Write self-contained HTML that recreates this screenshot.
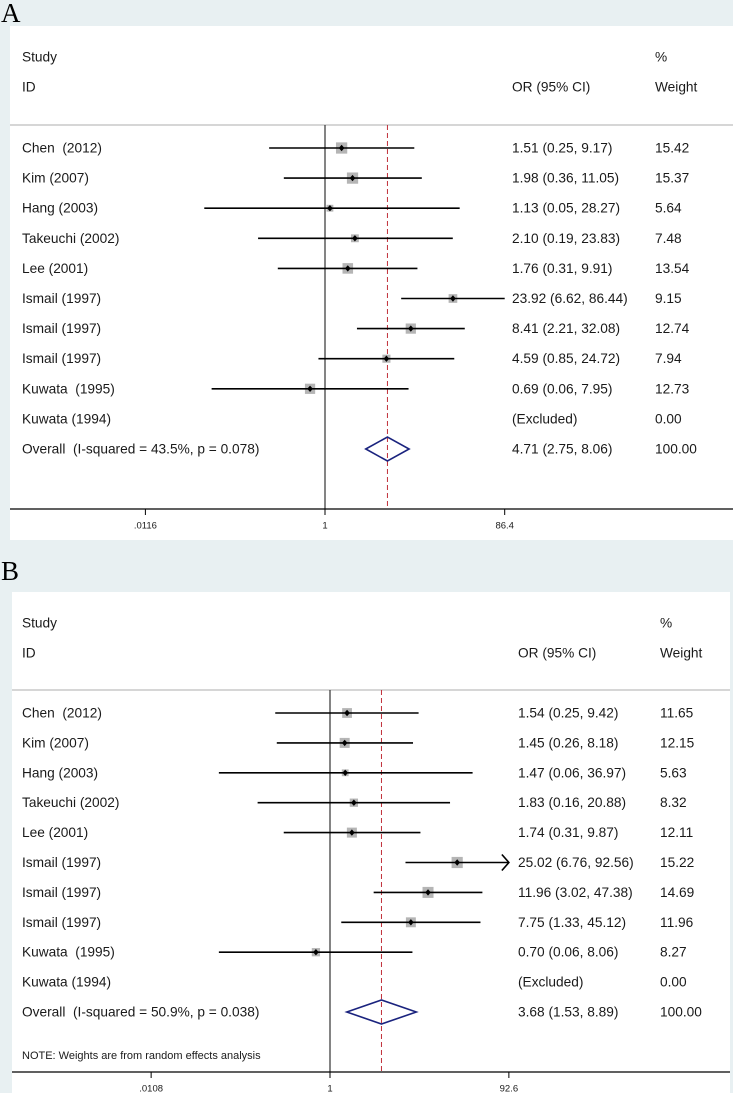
<!DOCTYPE html>
<html><head><meta charset="utf-8">
<style>
body{margin:0;background:#e8f0f2;}
svg{display:block;font-family:"Liberation Sans",Arial,sans-serif;}
svg text{white-space:pre;}
</style></head>
<body>
<svg id="fig" width="733" height="1093" viewBox="0 0 733 1093" xmlns="http://www.w3.org/2000/svg" xml:space="preserve">
<rect x="0" y="0" width="733" height="1093" fill="#e8f0f2"/>
<text x="1" y="22" font-family="Liberation Serif,serif" font-size="27" fill="#000">A</text>
<text x="1" y="580" font-family="Liberation Serif,serif" font-size="27" fill="#000">B</text>
</svg>
<script>
const studies = ["Chen  (2012)","Kim (2007)","Hang (2003)","Takeuchi (2002)","Lee (2001)","Ismail (1997)","Ismail (1997)","Ismail (1997)","Kuwata  (1995)","Kuwata (1994)"];
const orA = [1.51,1.98,1.13,2.10,1.76,23.92,8.41,4.59,0.69,null];
const loA = [0.25,0.36,0.05,0.19,0.31,6.62,2.21,0.85,0.06,null];
const hiA = [9.17,11.05,28.27,23.83,9.91,86.44,32.08,24.72,7.95,null];
const wA = [15.42,15.37,5.64,7.48,13.54,9.15,12.74,7.94,12.73,0.00];
const overallA = [4.71,2.75,8.06];
const ticksA = [0.0116,1,86.4];
const tickLabelsA = [".0116","1","86.4"];
const hetA = "Overall  (I-squared = 43.5%, p = 0.078)";

const orB = [1.54,1.45,1.47,1.83,1.74,25.02,11.96,7.75,0.70,null];
const loB = [0.25,0.26,0.06,0.16,0.31,6.76,3.02,1.33,0.06,null];
const hiB = [9.42,8.18,36.97,20.88,9.87,92.56,47.38,45.12,8.06,null];
const wB = [11.65,12.15,5.63,8.32,12.11,15.22,14.69,11.96,8.27,0.00];
const overallB = [3.68,1.53,8.89];
const ticksB = [0.0108,1,92.6];
const tickLabelsB = [".0108","1","92.6"];
const hetB = "Overall  (I-squared = 50.9%, p = 0.038)";

const NS="http://www.w3.org/2000/svg";
const svg=document.getElementById('fig');
function mk(tag,attrs,parent){const e=document.createElementNS(NS,tag);for(const k in attrs)e.setAttribute(k,attrs[k]);(parent||svg).appendChild(e);return e;}
function fmt(v){return v.toFixed(2);}

function panel(p){
  const g=mk('g',{});
  
  
  const bg=mk('rect',{x:p.left,y:p.top,width:p.right-p.left,height:p.bottom-p.top,fill:'#ffffff'},g);
  
  
  const fs=13.7;
  const xs=v=>p.x1+Math.log(v)*p.k;
  const xmin=p.ticks[0], xmax=p.ticks[p.ticks.length-1];
  function txt(s,x,y,name,size){const t=mk('text',{x:x,y:y,'font-size':size||fs,fill:'#1a1a1a','dominant-baseline':'central'},g);t.textContent=s;return t;}
  txt('Study',22,p.hy1,'study-header');
  txt('ID',22,p.hy2,'id-header');
  txt('OR (95% CI)',p.orX,p.hy2,'or-ci-header');
  txt('%',p.wX,p.hy1,'weight-percent-header');
  txt('Weight',p.wX,p.hy2,'weight-header');
  const sep=mk('line',{x1:p.left,x2:p.right,y1:p.sepY,y2:p.sepY,stroke:'#bdbdbd','stroke-width':1.3},g);
  
  
  const nl=mk('line',{x1:xs(1),x2:xs(1),y1:p.sepY,y2:p.axisY,stroke:'#333','stroke-width':1.2},g);
  
  
  const ol=mk('line',{x1:xs(p.overall[0]),x2:xs(p.overall[0]),y1:p.sepY,y2:p.axisY,stroke:'#c0303a','stroke-width':1,'stroke-dasharray':'5,3'},g);
  
  
  for(let i=0;i<studies.length;i++){
    const y=p.row0+i*p.dy;
    txt(studies[i],22,y,'study-label');
    txt(p.w[i]===0?'0.00':fmt(p.w[i]),p.wX,y,'weight-value');
    if(p.or[i]===null){txt('(Excluded)',p.orX,y,'or-ci-value');continue;}
    txt(fmt(p.or[i])+' ('+fmt(p.lo[i])+', '+fmt(p.hi[i])+')',p.orX,y,'or-ci-value');
    const s=2.87*Math.sqrt(p.w[i]);
    const bx=mk('rect',{x:xs(p.or[i])-s/2,y:y-s/2,width:s,height:s,fill:'#b5b5b5'},g);
    
    
    const hiC=Math.min(p.hi[i],xmax), loC=Math.max(p.lo[i],xmin);
    const ci=mk('line',{x1:xs(loC),x2:xs(hiC),y1:y,y2:y,stroke:'#000','stroke-width':1.6},g);
    
    
    if(p.arrows && p.hi[i]>=xmax*0.99){
      const ax=xs(xmax);
      const ar=mk('polyline',{points:(ax-7)+','+(y-8)+' '+ax+','+y+' '+(ax-7)+','+(y+8),fill:'none',stroke:'#000','stroke-width':1.6},g);
      
      
    }
    const cx=xs(p.or[i]);
    const pt=mk('polygon',{points:(cx-2.8)+','+y+' '+cx+','+(y-3.2)+' '+(cx+2.8)+','+y+' '+cx+','+(y+3.2),fill:'#000'},g);
    
    
  }
  const oy=p.row0+studies.length*p.dy;
  txt(p.het,22,oy,'overall-label');
  txt(fmt(p.overall[0])+' ('+fmt(p.overall[1])+', '+fmt(p.overall[2])+')',p.orX,oy,'overall-or-ci');
  txt('100.00',p.wX,oy,'overall-weight');
  const dm=mk('polygon',{points:xs(p.overall[1])+','+oy+' '+xs(p.overall[0])+','+(oy-12)+' '+xs(p.overall[2])+','+oy+' '+xs(p.overall[0])+','+(oy+12),fill:'none',stroke:'#1a237e','stroke-width':1.6},g);
  
  
  if(p.note){txt(p.note,22,p.noteY,'weights-note',11);}
  const ax=mk('line',{x1:p.left,x2:p.right,y1:p.axisY,y2:p.axisY,stroke:'#000','stroke-width':1.3},g);
  
  
  for(let j=0;j<p.ticks.length;j++){
    const tx=xs(p.ticks[j]);
    const tk=mk('line',{x1:tx,x2:tx,y1:p.axisY,y2:p.axisY+6,stroke:'#000','stroke-width':1},g);
    
    
    const tl=txt(p.tickLabels[j],tx,p.axisY+17,'x-tick-label',9.5);
    tl.setAttribute('text-anchor','middle');
  }
}
panel({name:'panel-a',left:10,right:733,top:26,bottom:540,x1:325,k:40.3,hy1:57,hy2:87,sepY:125,row0:148,dy:30.1,axisY:509,orX:512,wX:655,arrows:false,
  or:orA,lo:loA,hi:hiA,w:wA,overall:overallA,ticks:ticksA,tickLabels:tickLabelsA,het:hetA});
panel({name:'panel-b',left:12,right:730,top:592,bottom:1093,x1:330,k:39.5,hy1:623,hy2:653,sepY:690,row0:713,dy:29.9,axisY:1072,orX:518,wX:660,arrows:true,
  or:orB,lo:loB,hi:hiB,w:wB,overall:overallB,ticks:ticksB,tickLabels:tickLabelsB,het:hetB,note:'NOTE: Weights are from random effects analysis',noteY:1056});
</script>
</body></html>
